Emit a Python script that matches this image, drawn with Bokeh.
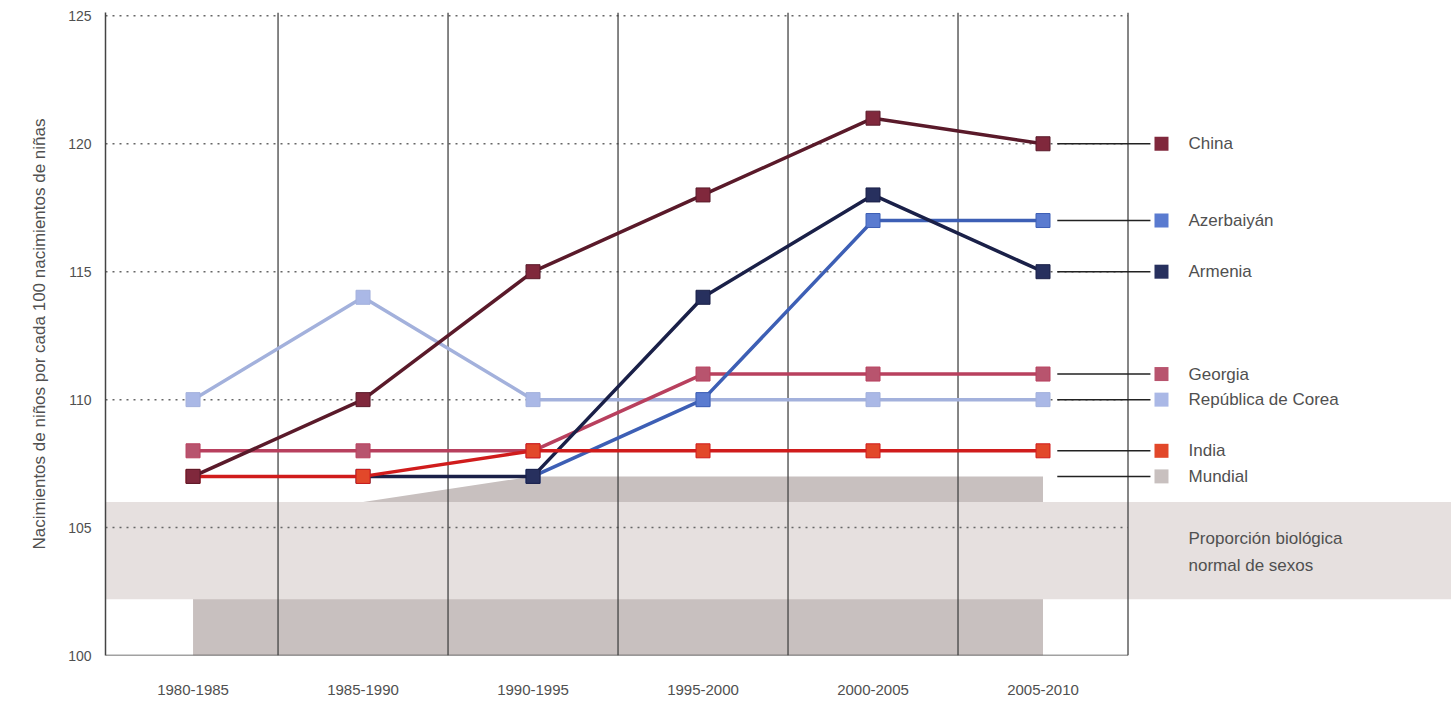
import math
from bokeh.plotting import figure
from bokeh.models import Range1d, FixedTicker
from bokeh.core.properties import value
from bokeh.embed import file_html
from bokeh.resources import INLINE

nan = float("nan")

# ---- data ----
periods = ["1980-1985", "1985-1990", "1990-1995", "1995-2000", "2000-2005", "2005-2010"]
china = [107, 110, 115, 118, 121, 120]
azerbaiyan = [nan, nan, 107, 110, 117, 117]
armenia = [nan, 107, 107, 114, 118, 115]
georgia = [108, 108, 108, 111, 111, 111]
corea = [110, 114, 110, 110, 110, 110]
india = [107, 107, 108, 108, 108, 108]
mundial = [106, 106, 107, 107, 107, 107]
band_low, band_high = 102.2, 106
y_ticks = [100, 105, 110, 115, 120, 125]
band_text = ["Proporción biológica", "normal de sexos"]
y_title = "Nacimientos de niños por cada 100 nacimientos de niñas"

# ---- styles ----
FONT = value("Liberation Sans")
TXT = "#505050"
xs = list(range(len(periods)))
X0, X1 = -0.515, 7.403
Y0, Y1 = 100, 125.13

p = figure(width=1451, height=704, output_backend="svg", toolbar_location=None,
           x_range=Range1d(X0, X1), y_range=Range1d(Y0, Y1),
           min_border_left=105, min_border_right=0, min_border_top=12, min_border_bottom=49)
p.outline_line_color = None
p.xgrid.visible = False
p.ygrid.visible = False

# axes
p.yaxis.ticker = FixedTicker(ticks=y_ticks)
p.yaxis.axis_line_color = "#444444"
p.yaxis.axis_line_width = 1.5
p.yaxis.major_tick_line_color = None
p.yaxis.minor_tick_line_color = None
p.yaxis.major_label_standoff = 8
p.yaxis.major_label_text_font = "Liberation Sans"
p.yaxis.major_label_text_font_size = "14px"
p.yaxis.major_label_text_color = TXT
p.yaxis.axis_label = y_title
p.yaxis.axis_label_text_font = "Liberation Sans"
p.yaxis.axis_label_text_font_size = "17px"
p.yaxis.axis_label_text_font_style = "normal"
p.yaxis.axis_label_text_color = TXT
p.yaxis.axis_label_standoff = 16

p.xaxis.ticker = FixedTicker(ticks=xs)
p.xaxis.major_label_overrides = {i: s for i, s in enumerate(periods)}
p.xaxis.axis_line_color = None
p.xaxis.major_tick_line_color = None
p.xaxis.minor_tick_line_color = None
p.xaxis.major_label_standoff = 23
p.xaxis.major_label_text_font = "Liberation Sans"
p.xaxis.major_label_text_font_size = "15px"
p.xaxis.major_label_text_color = TXT

# world area
p.varea(x=xs, y1=[Y0] * len(xs), y2=mundial, fill_color="#c8c0bf")
# biological band
p.quad(left=[X0], right=[X1], bottom=[band_low], top=[band_high],
       fill_color="#e6e0df", line_color=None)

# dotted horizontal grid
gy = y_ticks[1:]
p.segment(x0=[X0] * len(gy), x1=[xs[-1] + 0.5] * len(gy), y0=gy, y1=gy,
          line_color="#666666", line_width=1.5, line_dash="2 5")
# vertical separators
vx = [x + 0.5 for x in xs]
p.segment(x0=vx, x1=vx, y0=[Y0] * len(vx), y1=[Y1] * len(vx),
          line_color="#444444", line_width=1.3)
# bottom axis line
p.segment(x0=[X0], x1=[xs[-1] + 0.5], y0=[Y0], y1=[Y0], line_color="#444444", line_width=1.5)

series = [
    ("República de Corea", corea, "#a3b1dc", "#aab8e6"),
    ("Georgia", georgia, "#b8405e", "#b8546e"),
    ("Azerbaiyán", azerbaiyan, "#3d5fb5", "#5a7bd0"),
    ("Armenia", armenia, "#1a2048", "#27305e"),
    ("India", india, "#d01c1c", "#e2482a"),
    ("China", china, "#5a1a2a", "#80283c"),
]
for name, ys, lc, fc in series:
    p.line(xs, ys, line_color=lc, line_width=3.5)
    p.scatter(xs, ys, marker="square", size=14, fill_color=fc, line_color=lc, line_width=1)

# legend at right (rows at last values)
LX0, LX1, LSQ, LTX = 5.084, 5.632, 5.697, 5.856
leg = [(n, ys[-1], fc) for n, ys, lc, fc in series] + [("Mundial", mundial[-1], "#c8c0bf")]
ly = [v for _, v, _ in leg]
p.segment(x0=[LX0] * len(ly), x1=[LX1] * len(ly), y0=ly, y1=ly, line_color="#222222", line_width=1.5)
p.scatter([LSQ] * len(ly), ly, marker="square", size=14, fill_color=[c for _, _, c in leg],
          line_color=None)
p.text(x=[LTX] * len(ly), y=ly, text=[n for n, _, _ in leg], text_font=FONT,
       text_font_size="17px", text_color=TXT, text_baseline="middle", text_align="left")

# band label
bm = (band_low + band_high) / 2
p.text(x=[LTX, LTX], y=[bm, bm], text=band_text, y_offset=[-12, 15], text_font=FONT,
       text_font_size="17px", text_color=TXT, text_baseline="middle", text_align="left")

open("out.html", "w").write(file_html(p, INLINE))
